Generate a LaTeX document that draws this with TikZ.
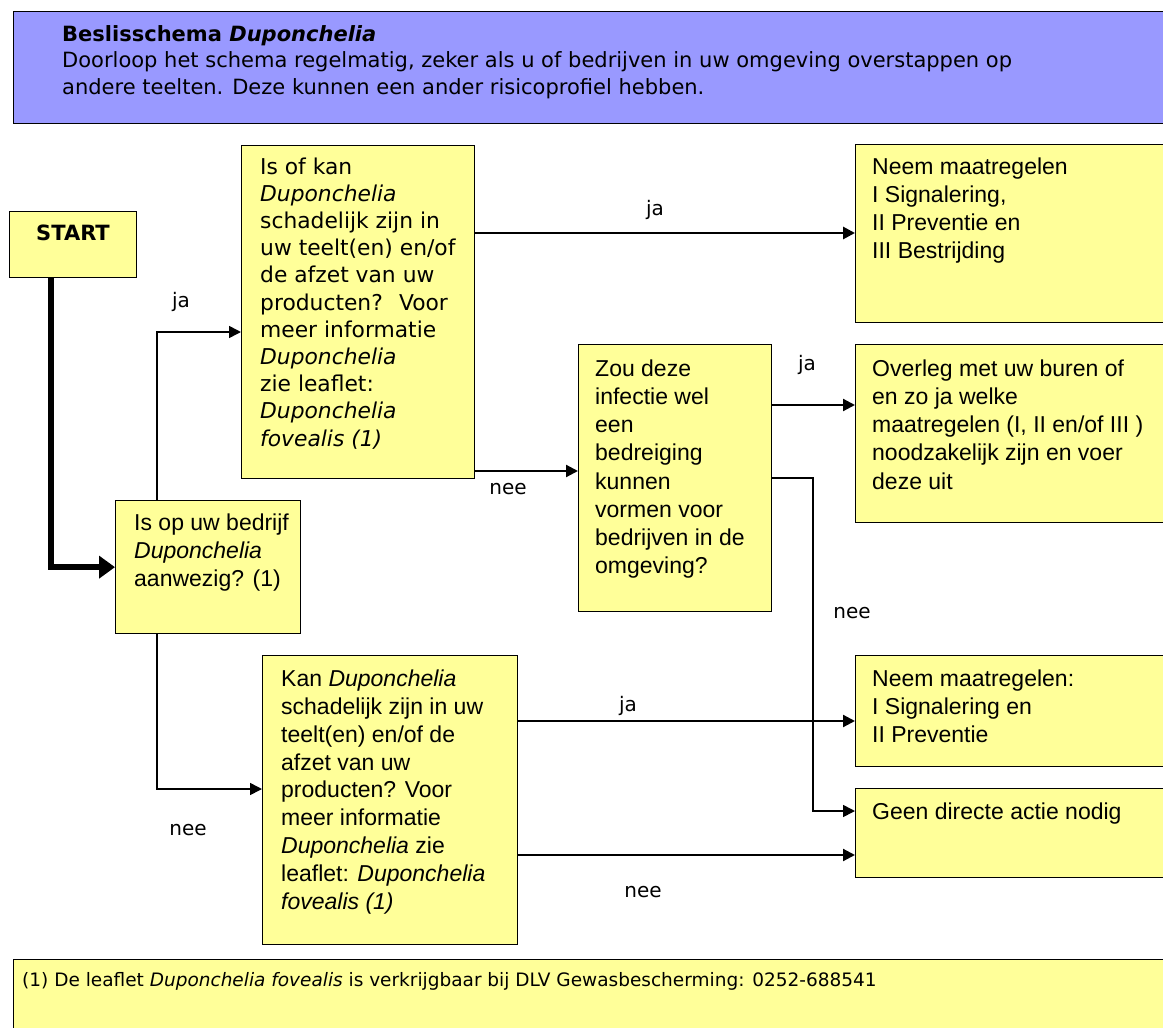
\documentclass[tikz,border=0pt]{standalone}
\usepackage{fontspec}
\setmainfont{Liberation Sans}
\newfontfamily\vfont{DejaVu Sans}
\newfontfamily\afont{Liberation Sans}
\usetikzlibrary{arrows.meta}
\definecolor{yel}{HTML}{FFFF99}
\definecolor{hdr}{HTML}{9999FF}
\begin{document}
\begin{tikzpicture}[x=1pt,y=-1pt,
 box/.style={draw=black, line width=1.3pt, fill=yel, anchor=north west, inner sep=0pt},
 sz/.style 2 args={minimum width=#1, minimum height=#2},
 vt/.style={anchor=north west, inner sep=0pt, align=left, font=\vfont\fontsize{21.8}{27.2}\selectfont},
 atx/.style={anchor=north west, inner sep=0pt, align=left, font=\afont\fontsize{23}{28.2}\selectfont},
 lab/.style={inner sep=0pt, font=\vfont\fontsize{20}{23}\selectfont},
 arr/.style={line width=2.2pt, -{Triangle[length=12pt,width=12pt]}},
 ln/.style={line width=1.6pt},
]
\useasboundingbox (0,0) rectangle (1163,1028);
\clip (0,0) rectangle (1163,1028);

% header
\node[box, fill=hdr, sz={1170}{112}] (hdr) at (13,11) {};
\node[anchor=north west, inner sep=0pt, align=left, font=\vfont\fontsize{21}{26.8}\selectfont] (hdrt) at (62,25)
 {\textbf{Beslisschema \textit{Duponchelia}}\\
  Doorloop het schema regelmatig, zeker als u of bedrijven in uw omgeving overstappen op\\
  andere teelten. Deze kunnen een ander risicoprofiel hebben.};

% boxes
\node[box, sz={127}{66}] (start) at (9,211) {};
\node[anchor=north, inner sep=0pt, font=\vfont\bfseries\fontsize{21}{25}\selectfont] (startt) at (73,225) {START};

\node[box, sz={185}{133}] (isop) at (115,500) {};
\node[atx] (isopt) at (134,513.5) {Is op uw bedrijf\\ \textit{Duponchelia}\\ aanwezig? (1)};

\node[box, sz={233}{333}] (b1) at (241,145) {};
\node[vt] (b1t) at (260,157.4) {Is of kan\\ \textit{Duponchelia}\\ schadelijk zijn in\\ uw teelt(en) en/of\\ de afzet van uw\\ producten?~ Voor\\ meer informatie\\ \textit{Duponchelia}\\ zie leaflet:\\ \textit{Duponchelia}\\ \textit{fovealis (1)}};

\node[box, sz={320}{178}] (neem1) at (855,144) {};
\node[atx] (neem1t) at (872,157.5) {Neem maatregelen\\ I Signalering,\\ II Preventie en\\ III Bestrijding};

\node[box, sz={193}{267}] (zou) at (578,344) {};
\node[atx] (zout) at (595,359.5) {Zou deze\\ infectie wel\\ een\\ bedreiging\\ kunnen\\ vormen voor\\ bedrijven in de\\ omgeving?};

\node[box, sz={320}{178}] (overleg) at (855,344) {};
\node[atx] (overlegt) at (872,359.5) {Overleg met uw buren of\\ en zo ja welke\\ maatregelen (I, II en/of III )\\ noodzakelijk zijn en voer\\ deze uit};

\node[box, sz={255}{289}] (kan) at (262,655) {};
\node[atx, font=\afont\fontsize{23}{27.9}\selectfont] (kant) at (281,669.5) {Kan \textit{Duponchelia}\\ schadelijk zijn in uw\\ teelt(en) en/of de\\ afzet van uw\\ producten? Voor\\ meer informatie\\ \textit{Duponchelia} zie\\ leaflet: \textit{Duponchelia}\\ \textit{fovealis (1)}};

\node[box, sz={320}{111}] (neem2) at (855,655) {};
\node[atx] (neem2t) at (872,669.5) {Neem maatregelen:\\ I Signalering en\\ II Preventie};

\node[box, sz={320}{89}] (geen) at (855,788) {};
\node[atx] (geent) at (872,802.5) {Geen directe actie nodig};

% footer
\node[box, sz={1170}{100}] (foot) at (13,959) {};
\node[anchor=north west, inner sep=0pt, font=\vfont\fontsize{18.5}{22}\selectfont] (foott) at (22,972.5)
 {(1) De leaflet \textit{Duponchelia fovealis} is verkrijgbaar bij DLV Gewasbescherming: 0252-688541};

% connectors
\draw[line width=5.5pt, -{Triangle[length=16pt,width=22pt]}] (51,0 |- start.south) |- (isop.west);
\draw[ln, -{Triangle[length=12pt,width=12pt]}] (157,0 |- isop.north) |- (b1.west |- 0,332);
\draw[ln, -{Triangle[length=12pt,width=12pt]}] (157,0 |- isop.south) |- (kan.west |- 0,789);
\draw[arr, line width=2.8pt] (b1.east |- 0,233) -- (neem1.west |- 0,233);
\draw[arr] (b1.east |- 0,471) -- (zou.west |- 0,471);
\draw[arr] (zou.east |- 0,405) -- (overleg.west |- 0,405);
\draw[ln, -{Triangle[length=12pt,width=12pt]}] (zou.east |- 0,478) -| (813,811) -- (geen.west |- 0,811);
\draw[arr] (kan.east |- 0,721) -- (neem2.west |- 0,721);
\draw[arr] (kan.east |- 0,855) -- (geen.west |- 0,855);

% labels
\node[lab] (l1) at (181,302) {ja};
\node[lab] (l2) at (655,210) {ja};
\node[lab] (l3) at (508,489) {nee};
\node[lab] (l4) at (807,365) {ja};
\node[lab] (l5) at (852,613) {nee};
\node[lab] (l6) at (628,706) {ja};
\node[lab] (l7) at (643,892) {nee};
\node[lab] (l8) at (188,830) {nee};
\end{tikzpicture}
\end{document}
